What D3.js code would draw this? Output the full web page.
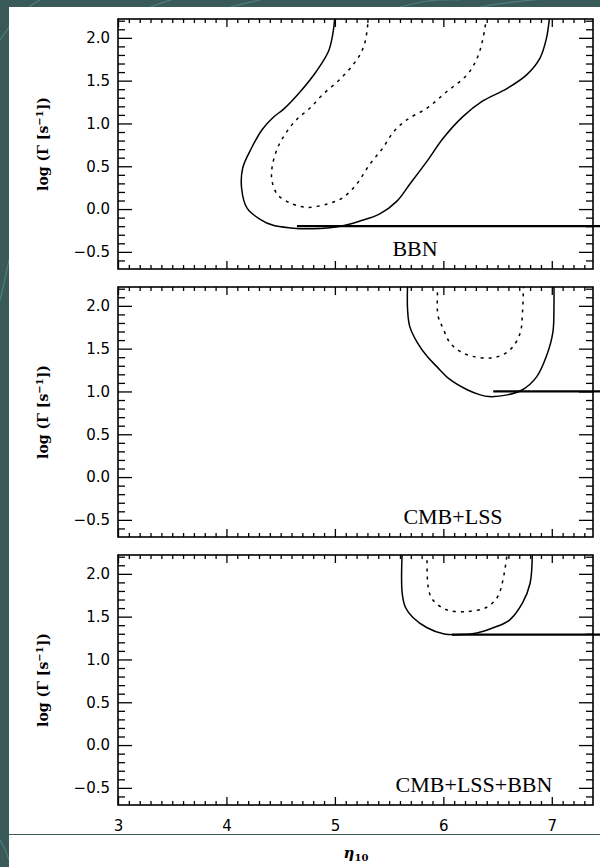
<!DOCTYPE html>
<html>
<head>
<meta charset="utf-8">
<script src="https://cdn.jsdelivr.net/npm/d3@7"></script>
<style>
  body { margin: 0; background: #3a5a5a; }
  svg { display: block; }
  .tick text { font-family: "DejaVu Sans", sans-serif; font-size: 15px; fill: #000; }
  .tick line { stroke: #000; stroke-width: 1.3; }
</style>
</head>
<body>
<div id="chart"></div>
<script>
// axis values
var xTicks = [3, 4, 5, 6, 7];
var yTicks = [-0.5, 0.0, 0.5, 1.0, 1.5, 2.0];
var panelNames = ["BBN", "CMB+LSS", "CMB+LSS+BBN"];

// contour traces [eta10, log Gamma]
var bbnOuter = [[5.00,2.25],[4.98,2.04],[4.94,1.84],[4.83,1.61],[4.68,1.37],[4.53,1.17],[4.43,1.07],
  [4.33,0.93],[4.23,0.71],[4.15,0.48],[4.14,0.24],[4.19,0.01],[4.31,-0.12],[4.43,-0.19],[4.59,-0.22],
  [4.80,-0.23],[5.05,-0.20],[5.23,-0.14],[5.41,-0.06],[5.57,0.09],[5.69,0.29],[5.85,0.56],[6.00,0.83],
  [6.18,1.08],[6.36,1.26],[6.59,1.41],[6.77,1.57],[6.89,1.76],[6.95,1.99],[6.98,2.25]];
var bbnInner = [[5.31,2.25],[5.28,1.96],[5.23,1.80],[5.17,1.69],[5.05,1.52],[4.89,1.34],[4.77,1.18],
  [4.65,1.05],[4.56,0.91],[4.47,0.71],[4.42,0.48],[4.42,0.33],[4.47,0.17],[4.59,0.07],[4.74,0.02],
  [4.93,0.06],[5.07,0.13],[5.20,0.29],[5.32,0.52],[5.44,0.71],[5.54,0.90],[5.66,1.04],[5.85,1.18],
  [6.03,1.37],[6.22,1.57],[6.31,1.76],[6.36,1.96],[6.40,2.25]];
var cmbOuter = [[5.67,2.25],[5.67,1.96],[5.69,1.76],[5.76,1.57],[5.85,1.41],[5.94,1.29],[6.06,1.14],
  [6.22,1.02],[6.34,0.96],[6.42,0.94],[6.59,0.96],[6.73,1.02],[6.86,1.17],[6.95,1.41],[7.01,1.69],
  [7.02,2.00],[7.02,2.25]];
var cmbInner = [[5.95,2.25],[5.95,1.89],[6.00,1.73],[6.06,1.57],[6.15,1.47],[6.27,1.41],[6.43,1.39],
  [6.55,1.43],[6.64,1.52],[6.71,1.69],[6.73,1.93],[6.74,2.25]];
var allOuter = [[5.62,2.25],[5.62,1.78],[5.65,1.61],[5.72,1.49],[5.85,1.37],[6.00,1.30],[6.15,1.29],
  [6.31,1.31],[6.46,1.37],[6.61,1.46],[6.73,1.66],[6.80,1.89],[6.82,2.25]];
var allInner = [[5.85,2.25],[5.86,1.85],[5.90,1.70],[6.03,1.58],[6.22,1.56],[6.40,1.61],[6.50,1.73],
  [6.55,1.93],[6.59,2.25]];

// lower limit lines (start eta10, log Gamma)
var cutX = [4.65, 6.46, 6.08];
var cutY = [-0.20, 1.00, 1.29];

var contours = [[bbnOuter, bbnInner], [cmbOuter, cmbInner], [allOuter, allInner]];

var W = 600, H = 867;
var left = 118, right = 593;
var panelTop = [19, 287, 555], panelH = 250;
var labelX = [415, 453, 474];

var svg = d3.select("#chart").append("svg")
    .attr("width", W)
    .attr("height", H);

// teal backdrop with faint streaks
svg.append("rect").attr("width", W).attr("height", H).attr("fill", "#3a5a5a");
var streaks = ["M0,40 Q20,10 40,0", "M150,7 Q170,0 180,-3", "M230,7 Q250,2 260,0",
  "M400,7 Q430,-2 460,0", "M480,7 Q520,0 560,-2", "M0,840 Q6,850 9,860", "M0,300 Q5,280 9,260"];
svg.selectAll(".streak").data(streaks).enter().append("path")
    .attr("d", function(d) { return d; })
    .attr("fill", "none")
    .attr("stroke", "#4f7d7b")
    .attr("stroke-width", 1.2);
svg.append("rect").attr("x", 9).attr("y", 7).attr("width", W - 9).attr("height", H - 7).attr("fill", "#fff");
svg.append("line").attr("x1", 9).attr("x2", W).attr("y1", 834.5).attr("y2", 834.5)
    .attr("stroke", "#3a5a5a").attr("stroke-width", 1);

var x = d3.scaleLinear().domain([3, 7.38]).range([left, right]);

var xMinor = d3.range(31, 74).map(function(d) { return d / 10; })
    .filter(function(d) { return Math.abs(d - Math.round(d)) > 1e-6; });
var yMinor = d3.range(-6, 23).map(function(d) { return d / 10; })
    .filter(function(d) { return Math.abs(d * 2 - Math.round(d * 2)) > 1e-6; });

panelTop.forEach(function(top, i) {
  var y = d3.scaleLinear().domain([-0.7, 2.22]).range([top + panelH, top]);
  var g = svg.append("g");

  g.append("clipPath").attr("id", "clip" + i)
    .append("rect").attr("x", left).attr("y", top).attr("width", right - left).attr("height", panelH);

  // left axis with labels
  g.append("g").attr("transform", "translate(" + left + ",0)")
      .call(d3.axisLeft(y).tickValues(yTicks).tickSize(-14).tickSizeOuter(0).tickPadding(8)
        .tickFormat(function(d) { return d3.format(".1f")(d).replace("-", "\u2212"); }));
  g.append("g").attr("transform", "translate(" + left + ",0)")
      .call(d3.axisLeft(y).tickValues(yMinor).tickSize(-7).tickSizeOuter(0).tickFormat(""));
  // right axis
  g.append("g").attr("transform", "translate(" + right + ",0)")
      .call(d3.axisRight(y).tickValues(yTicks).tickSize(-14).tickSizeOuter(0).tickFormat(""));
  g.append("g").attr("transform", "translate(" + right + ",0)")
      .call(d3.axisRight(y).tickValues(yMinor).tickSize(-7).tickSizeOuter(0).tickFormat(""));
  // top axis
  g.append("g").attr("transform", "translate(0," + top + ")")
      .call(d3.axisTop(x).tickValues(xTicks).tickSize(-8).tickSizeOuter(0).tickFormat(""));
  g.append("g").attr("transform", "translate(0," + top + ")")
      .call(d3.axisTop(x).tickValues(xMinor).tickSize(-4).tickSizeOuter(0).tickFormat(""));
  // bottom axis, labels only under the last panel
  g.append("g").attr("transform", "translate(0," + (top + panelH) + ")")
      .call(d3.axisBottom(x).tickValues(xTicks).tickSize(-8).tickSizeOuter(0).tickPadding(15)
        .tickFormat(i === 2 ? d3.format("d") : ""));
  g.append("g").attr("transform", "translate(0," + (top + panelH) + ")")
      .call(d3.axisBottom(x).tickValues(xMinor).tickSize(-4).tickSizeOuter(0).tickFormat(""));
  g.selectAll(".domain").remove();

  // frame
  g.append("rect")
      .attr("x", left).attr("y", top)
      .attr("width", right - left).attr("height", panelH)
      .attr("fill", "none").attr("stroke", "#000").attr("stroke-width", 1.6);

  var lineY = d3.line()
      .x(function(d) { return x(d[0]); })
      .y(function(d) { return y(d[1]); })
      .curve(d3.curveCatmullRom.alpha(0.5));

  var c = g.append("g").attr("clip-path", "url(#clip" + i + ")");
  c.append("path").datum(contours[i][0])
      .attr("d", lineY).attr("fill", "none").attr("stroke", "#000").attr("stroke-width", 1.5);
  c.append("path").datum(contours[i][1])
      .attr("d", lineY).attr("fill", "none").attr("stroke", "#000").attr("stroke-width", 1.5)
      .attr("stroke-dasharray", "3,5");

  // lower limit line runs out past the frame
  g.append("line")
      .attr("x1", x(cutX[i])).attr("x2", W)
      .attr("y1", y(cutY[i])).attr("y2", y(cutY[i]))
      .attr("stroke", "#000").attr("stroke-width", 2.2);

  // panel label
  g.append("text")
      .attr("x", labelX[i]).attr("y", y(-0.5) + 4)
      .attr("text-anchor", "middle")
      .style("font-family", "'Liberation Serif', serif")
      .style("font-size", "22px")
      .text(panelNames[i]);

  // y title
  var t = g.append("text")
      .attr("transform", "translate(48," + (top + panelH / 2) + ") rotate(-90)")
      .attr("text-anchor", "middle")
      .style("font-family", "'DejaVu Serif', serif")
      .style("font-size", "14px")
      .style("font-weight", "bold");
  t.append("tspan").text("log (\u0393 [s");
  t.append("tspan").attr("dy", -5).style("font-size", "10px").text("\u22121");
  t.append("tspan").attr("dy", 5).text("])");
});

// x title
var xt = svg.append("text")
    .attr("x", 356).attr("y", 858)
    .attr("text-anchor", "middle")
    .style("font-family", "'DejaVu Serif', serif")
    .style("font-weight", "bold")
    .style("font-size", "15px");
xt.append("tspan").style("font-style", "italic").text("\u03b7");
xt.append("tspan").attr("dy", 3).style("font-size", "10px").text("10");
</script>
</body>
</html>
